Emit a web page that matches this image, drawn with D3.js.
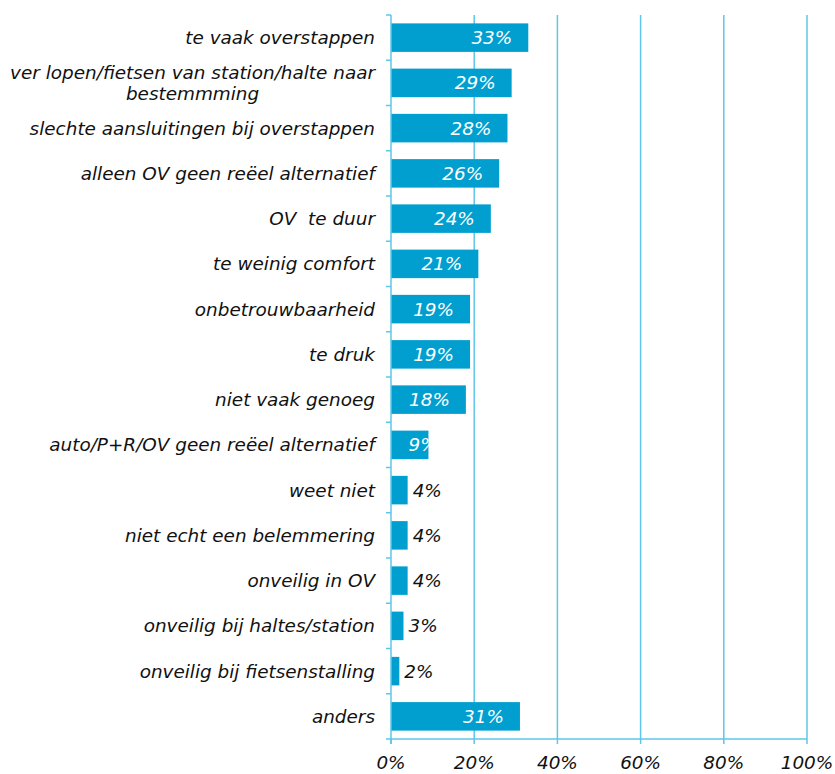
<!DOCTYPE html>
<meta charset="utf-8">
<style>
  body { margin: 0; background: #fff; }
  text { font-family: "DejaVu Sans", Verdana, sans-serif; font-style: italic; }
</style>
<svg width="835" height="774"></svg>
<script src="https://d3js.org/d3.v7.min.js"></script>
<script>
var categories = [
  'te vaak overstappen',
  'ver lopen/fietsen van station/halte naar|bestemmming',
  'slechte aansluitingen bij overstappen',
  'alleen OV geen re\u00EBel alternatief',
  'OV\u00A0 te duur',
  'te weinig comfort',
  'onbetrouwbaarheid',
  'te druk',
  'niet vaak genoeg',
  'auto/P+R/OV geen re\u00EBel alternatief',
  'weet niet',
  'niet echt een belemmering',
  'onveilig in OV',
  'onveilig bij haltes/station',
  'onveilig bij fietsenstalling',
  'anders'
]
var values = [33, 29, 28, 26, 24, 21, 19, 19, 18, 9, 4, 4, 4, 3, 2, 31]
var xTicks = [0, 20, 40, 60, 80, 100]

var barColor = '#009fd0'
var gridColor = '#5ec6e8'
var fs = 18.4

var svg = d3.select('svg')
var plotLeft = 391, plotRight = 807, plotTop = 15, plotBottom = 739

var x = d3.scaleLinear().domain([0, 100]).range([plotLeft, plotRight])
var y = d3.scaleBand().domain(d3.range(categories.length)).range([plotTop, plotBottom]).paddingInner(0.37).paddingOuter(0.185)
var yEdges = d3.scaleLinear().domain([0, categories.length]).range([plotTop, plotBottom])

// grid lines
svg.append('g').selectAll('line')
  .data(xTicks.slice(1))
  .enter().append('line')
  .attr('x1', d => x(d)).attr('x2', d => x(d))
  .attr('y1', plotTop).attr('y2', plotBottom)
  .attr('stroke', gridColor).attr('stroke-width', 1.5)

// bars
svg.append('g').selectAll('rect')
  .data(values)
  .enter().append('rect')
  .attr('x', plotLeft)
  .attr('y', (d, i) => y(i))
  .attr('width', d => x(d) - plotLeft)
  .attr('height', y.bandwidth())
  .attr('fill', barColor)

// value labels: inside end for big bars, clipped-looking for 9%, outside for small
svg.append('g').selectAll('text')
  .data(values)
  .enter().append('text')
  .attr('y', (d, i) => y(i) + y.bandwidth() / 2)
  .attr('dy', '0.36em')
  .attr('font-size', fs)
  .attr('x', d => d >= 10 ? x(d) - 16 : (d >= 9 ? x(d) - 20 : x(d) + 5))
  .attr('text-anchor', d => d >= 10 ? 'end' : 'start')
  .attr('fill', d => d >= 9 ? '#fff' : '#111')
  .text(d => d + '%')

// axes lines + ticks
var axisG = svg.append('g').attr('stroke', gridColor).attr('stroke-width', 1.5)
axisG.append('line').attr('x1', plotLeft).attr('x2', plotLeft).attr('y1', plotTop).attr('y2', plotBottom + 5)
axisG.append('line').attr('x1', plotLeft).attr('x2', plotRight).attr('y1', plotBottom).attr('y2', plotBottom)
axisG.selectAll('.yt').data(d3.range(categories.length + 1)).enter().append('line')
  .attr('x1', plotLeft - 5).attr('x2', plotLeft)
  .attr('y1', d => yEdges(d)).attr('y2', d => yEdges(d))
axisG.selectAll('.xt').data(xTicks).enter().append('line')
  .attr('x1', d => x(d)).attr('x2', d => x(d))
  .attr('y1', plotBottom).attr('y2', plotBottom + 5)

// x tick labels
svg.append('g').selectAll('text')
  .data(xTicks)
  .enter().append('text')
  .attr('x', d => x(d))
  .attr('y', 769)
  .attr('text-anchor', 'middle')
  .attr('font-size', fs)
  .attr('fill', '#111')
  .text(d => d + '%')

// category labels
var labelG = svg.append('g')
categories.forEach(function (c, i) {
  var lines = c.split('|')
  var cy = y(i) + y.bandwidth() / 2
  if (lines.length === 1) {
    labelG.append('text')
      .attr('x', 375).attr('y', cy).attr('dy', '0.36em')
      .attr('text-anchor', 'end').attr('font-size', fs).attr('fill', '#111')
      .text(c)
  } else {
    var t = labelG.append('text')
      .attr('text-anchor', 'middle').attr('font-size', fs).attr('fill', '#111')
    var tmp = t.append('tspan').text(lines[0])
    var w = tmp.node().getComputedTextLength()
    tmp.remove()
    var cx = 375 - w / 2
    lines.forEach(function (l, j) {
      t.append('tspan').attr('x', cx)
        .attr('y', cy + (j - (lines.length - 1) / 2) * 21)
        .attr('dy', '0.36em')
        .text(l)
    })
  }
})
</script>
